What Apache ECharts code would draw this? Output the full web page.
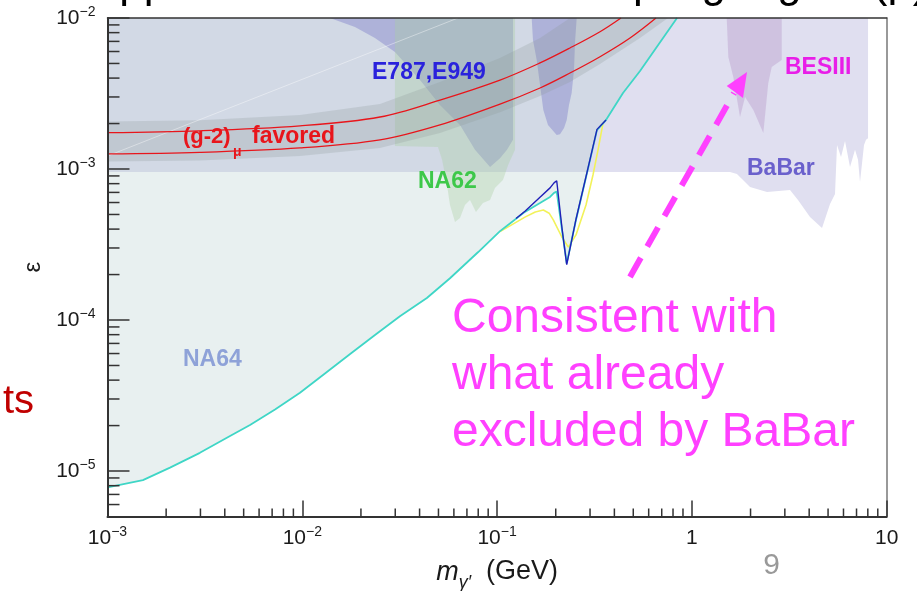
<!DOCTYPE html>
<html>
<head>
<meta charset="utf-8">
<script src="https://cdn.jsdelivr.net/npm/echarts@6/dist/echarts.min.js"></script>
<style>
  html, body { margin: 0; padding: 0; background: #ffffff; }
  #chart { width: 917px; height: 591px; }
</style>
</head>
<body>
<div id="chart"></div>
<script>
// Dark photon parameter space: coupling epsilon versus mass m_A' (GeV)

const FONT = '"Liberation Sans", Arial, Helvetica, sans-serif';

// NA64 upper limit (cyan) and two alternative curves around the resonance
const na64Limit = [
  [0.001, 7.8e-6], [0.00152, 8.7e-6], [0.002094, 1.054e-5], [0.00298, 1.32e-5],
  [0.004256, 1.706e-5], [0.00539, 2.02e-5], [0.007244, 2.553e-5], [0.00973, 3.30e-5],
  [0.01307, 4.43e-5], [0.0176, 5.95e-5], [0.02361, 7.96e-5], [0.0317, 1.06e-4],
  [0.0436, 1.40e-4], [0.0573, 1.89e-4], [0.080, 2.82e-4], [0.1035, 3.88e-4],
  [0.112, 4.19e-4], [0.139, 5.2e-4], [0.166, 5.95e-4], [0.187, 6.53e-4],
  [0.196, 6.95e-4], [0.2023, 7.08e-4], [0.2154, 3.94e-4], [0.2277, 2.37e-4],
  [0.2541, 4.60e-4], [0.2894, 9.40e-4], [0.3257, 1.81e-3], [0.3622, 2.11e-3],
  [0.4429, 3.19e-3], [0.5416, 4.46e-3], [0.8386, 0.01]
];
const na64Blue = [
  [0.125, 4.7e-4], [0.139, 5.25e-4], [0.166, 6.5e-4], [0.187, 7.5e-4],
  [0.196, 8.1e-4], [0.2023, 8.36e-4], [0.2154, 4.05e-4], [0.2277, 2.33e-4],
  [0.2541, 4.65e-4], [0.2894, 9.5e-4], [0.3257, 1.83e-3], [0.3622, 2.11e-3]
];
const na64Yellow = [
  [0.1035, 3.85e-4], [0.139, 4.8e-4], [0.157, 5.19e-4], [0.1727, 5.35e-4],
  [0.185, 5.1e-4], [0.1943, 4.6e-4], [0.2146, 3.56e-4], [0.232, 3.04e-4],
  [0.2541, 3.66e-4], [0.286, 5.78e-4], [0.3106, 9.13e-4], [0.3297, 1.34e-3],
  [0.350, 2.02e-3]
];

// (g-2)_mu favoured band: outer grey band and the two red lines
const g2BandTop = [
  [0.001, 2.06e-3], [0.00298, 2.10e-3], [0.00973, 2.28e-3], [0.02505, 2.69e-3],
  [0.0509, 3.77e-3], [0.1035, 5.43e-3], [0.1661, 7.37e-3], [0.2366, 0.01]
];
const g2BandBottom = [
  [0.001, 1.12e-3], [0.00298, 1.14e-3], [0.00973, 1.22e-3], [0.02505, 1.38e-3],
  [0.0509, 1.73e-3], [0.1035, 2.38e-3], [0.1661, 3.04e-3], [0.2366, 3.77e-3],
  [0.3375, 4.96e-3], [0.5416, 7.37e-3], [0.754, 0.01]
];
const g2Upper = [
  [0.001, 1.74e-3], [0.00298, 1.79e-3], [0.00973, 1.93e-3], [0.02505, 2.21e-3],
  [0.0509, 2.86e-3], [0.1035, 3.88e-3], [0.1661, 5.04e-3], [0.2366, 6.33e-3],
  [0.3375, 8.11e-3], [0.4325, 0.01]
];
const g2Lower = [
  [0.001, 1.26e-3], [0.00298, 1.29e-3], [0.00973, 1.38e-3], [0.02505, 1.56e-3],
  [0.0509, 1.96e-3], [0.1035, 2.69e-3], [0.1661, 3.44e-3], [0.2366, 4.32e-3],
  [0.3375, 5.54e-3], [0.4811, 7.37e-3], [0.6541, 0.01]
];

// Excluded regions (closed outlines)
const babarRegion = [
  [0.001, 9.55e-4], [1.569, 9.55e-4], [1.704, 9.27e-4], [1.988, 7.60e-4],
  [2.43, 7.04e-4], [3.189, 7.26e-4], [3.505, 6.23e-4], [4.04, 4.81e-4],
  [4.656, 4.07e-4], [5.117, 5.86e-4], [5.428, 6.83e-4], [5.558, 1.44e-3],
  [5.827, 1.20e-3], [6.109, 1.53e-3], [6.481, 1.03e-3], [6.877, 1.34e-3],
  [7.125, 1.15e-3], [7.294, 8.20e-4], [7.647, 1.44e-3], [7.83, 1.56e-3],
  [8.02, 1.6e-3], [8.02, 0.01], [0.001, 0.01]
];
const e787Region = [
  [0.01387, 0.01], [0.1207, 0.01], [0.1207, 1.56e-3], [0.1124, 1.34e-3],
  [0.1035, 1.18e-3], [0.092, 1.03e-3], [0.077, 1.34e-3], [0.0645, 1.96e-3],
  [0.0509, 2.65e-3], [0.0402, 3.88e-3], [0.0299, 5.95e-3], [0.0236, 7.37e-3],
  [0.01864, 8.72e-3]
];
const na62Region = [
  [0.0299, 0.01], [0.1236, 0.01], [0.1236, 1.34e-3], [0.1138, 1.06e-3],
  [0.1072, 8.46e-4], [0.0975, 7.48e-4], [0.092, 6.23e-4], [0.0846, 5.95e-4],
  [0.0779, 5.19e-4], [0.0726, 6.23e-4], [0.0684, 5.78e-4], [0.0645, 4.74e-4],
  [0.0608, 4.46e-4], [0.0573, 5.78e-4], [0.0553, 7.83e-4], [0.0522, 1.15e-3],
  [0.0497, 1.40e-3], [0.0299, 1.42e-3]
];
const midRegion = [
  [0.1505, 0.01], [0.1528, 7.15e-3], [0.1597, 5.27e-3], [0.1661, 3.60e-3],
  [0.1727, 2.46e-3], [0.1825, 1.96e-3], [0.2023, 1.68e-3], [0.2103, 1.70e-3],
  [0.2206, 1.87e-3], [0.2277, 2.11e-3], [0.2339, 2.65e-3], [0.2414, 3.19e-3],
  [0.2482, 4.52e-3], [0.2511, 6.83e-3], [0.2562, 0.01]
];
const besRegion = [
  [1.509, 0.01], [1.538, 5.51e-3], [1.631, 4.07e-3], [1.766, 2.21e-3],
  [1.874, 3.0e-3], [2.067, 2.46e-3], [2.326, 1.73e-3], [2.467, 3.71e-3],
  [2.569, 4.74e-3], [2.891, 5.27e-3], [2.891, 0.01]
];
const aeEdge = [[0.001, 1.22e-3], [0.063, 0.01]];

// Axis ranges and minor tick positions
const massRange = [0.001, 10];
const epsRange = [5e-6, 0.01];
const massMinorTicks = [
  0.002, 0.003, 0.004, 0.005, 0.006, 0.007, 0.008, 0.009,
  0.02, 0.03, 0.04, 0.05, 0.06, 0.07, 0.08, 0.09,
  0.2, 0.3, 0.4, 0.5, 0.6, 0.7, 0.8, 0.9,
  2, 3, 4, 5, 6, 7, 8, 9
];
const epsMinorTicks = [
  6e-6, 7e-6, 8e-6, 9e-6,
  2e-5, 3e-5, 4e-5, 5e-5, 6e-5, 7e-5, 8e-5, 9e-5,
  2e-4, 3e-4, 4e-4, 5e-4, 6e-4, 7e-4, 8e-4, 9e-4,
  2e-3, 3e-3, 4e-3, 5e-3, 6e-3, 7e-3, 8e-3, 9e-3
];

function regionSeries(points, fill, z) {
  return {
    type: 'custom',
    coordinateSystem: 'cartesian2d',
    silent: true,
    z: z,
    data: points,
    encode: { x: 0, y: 1 },
    renderItem: function (params, api) {
      if (params.dataIndex !== 0) return;
      return {
        type: 'polygon',
        shape: { points: points.map(function (p) { return api.coord(p); }) },
        style: { fill: fill }
      };
    }
  };
}

function curveSeries(points, color, width, z, smooth) {
  return {
    type: 'line',
    data: points,
    showSymbol: false,
    symbol: 'none',
    silent: true,
    smooth: smooth || false,
    z: z,
    lineStyle: { color: color, width: width },
    emphasis: { disabled: true }
  };
}

function powerLabel(v) {
  const e = Math.round(Math.log10(v));
  if (Math.abs(Math.log10(v) - e) > 1e-6) return '';
  if (e === 0) return '{b|1}';
  if (e === 1) return '{b|10}';
  return '{b|10}{s|' + (e < 0 ? '\u2212' + (-e) : e) + '}';
}

const labelRich = {
  b: { fontFamily: FONT, fontSize: 21, color: '#1a1a1a', lineHeight: 21, verticalAlign: 'bottom' },
  s: { fontFamily: FONT, fontSize: 14, color: '#1a1a1a', lineHeight: 14, verticalAlign: 'bottom', padding: [0, 0, 9, 0] }
};

const chart = echarts.init(document.getElementById('chart'), null, { renderer: 'canvas' });

const option = {
  animation: false,
  backgroundColor: '#ffffff',
  grid: { left: 107.5, top: 18, width: 779.2, height: 498.5, containLabel: false, outerBoundsMode: 'none' },
  xAxis: [
    {
      type: 'log', logBase: 10, min: massRange[0], max: massRange[1], z: 5,
      axisLine: { show: true, lineStyle: { color: '#333', width: 2 } },
      axisTick: { show: true, inside: true, length: 16, lineStyle: { color: '#333', width: 1.5 } },
      axisLabel: { formatter: powerLabel, rich: labelRich, margin: 11, showMinLabel: true, showMaxLabel: true },
      splitLine: { show: false },
      name: '{m|m}{g|\u03b3\u2032}{t|(GeV)}',
      nameLocation: 'middle',
      nameGap: 42,
      nameTextStyle: {
        rich: {
          m: { fontFamily: FONT, fontSize: 27, fontStyle: 'italic', color: '#1a1a1a', verticalAlign: 'bottom', padding: [0, 0, 6, 0] },
          g: { fontFamily: FONT, fontSize: 18, fontStyle: 'italic', color: '#1a1a1a', verticalAlign: 'bottom' },
          t: { fontFamily: FONT, fontSize: 27, color: '#1a1a1a', verticalAlign: 'bottom', padding: [0, 0, 6, 15] }
        }
      }
    },
    {
      type: 'log', logBase: 10, min: massRange[0], max: massRange[1], position: 'top', z: 5,
      axisLine: { show: true, lineStyle: { color: '#333', width: 1.5 } },
      axisTick: { show: false }, axisLabel: { show: false }, splitLine: { show: false }
    }
  ],
  yAxis: [
    {
      type: 'log', logBase: 10, min: epsRange[0], max: epsRange[1], z: 5,
      axisLine: { show: true, lineStyle: { color: '#333', width: 2 } },
      axisTick: { show: true, inside: true, length: 22, lineStyle: { color: '#333', width: 1.5 } },
      axisLabel: { formatter: powerLabel, rich: labelRich, margin: 12 },
      splitLine: { show: false },
      name: '\u03b5',
      nameLocation: 'middle',
      nameRotate: 90,
      nameGap: 62,
      nameTextStyle: { fontFamily: FONT, fontSize: 24, color: '#1a1a1a' }
    },
    {
      type: 'log', logBase: 10, min: epsRange[0], max: epsRange[1], position: 'right', z: 5,
      axisLine: { show: true, lineStyle: { color: '#777', width: 1.5 } },
      axisTick: { show: false }, axisLabel: { show: false }, splitLine: { show: false }
    }
  ],
  series: [
    regionSeries(babarRegion, '#e0dff0', 1),
    regionSeries(na64Limit.concat([[0.001, 0.01]]), 'rgba(178,205,205,0.3)', 1),
    regionSeries(e787Region, 'rgba(120,120,200,0.4)', 1),
    regionSeries(na62Region, 'rgba(170,205,160,0.35)', 1),
    regionSeries(midRegion, 'rgba(120,120,200,0.4)', 1),
    regionSeries(besRegion, 'rgba(170,130,190,0.3)', 1),
    regionSeries(g2BandTop.concat(g2BandBottom.slice().reverse()), 'rgba(140,150,150,0.25)', 1),
    curveSeries(aeEdge, 'rgba(255,255,255,0.4)', 1, 2),
    curveSeries(g2Upper, '#e8151b', 1.3, 3, 0.35),
    curveSeries(g2Lower, '#e8151b', 1.3, 3, 0.35),
    curveSeries(na64Yellow, '#f2f25a', 1.6, 3),
    curveSeries(na64Limit, '#3fd6c6', 1.8, 3),
    curveSeries(na64Blue, '#2020b8', 1.4, 3),
    {
      type: 'custom', coordinateSystem: 'cartesian2d', silent: true, z: 6,
      data: massMinorTicks.map(function (v) { return [v, epsRange[0]]; }),
      encode: { x: 0, y: 1 },
      renderItem: function (params, api) {
        const p = api.coord([api.value(0), api.value(1)]);
        return { type: 'line', shape: { x1: p[0], y1: p[1], x2: p[0], y2: p[1] - 8 }, style: { stroke: '#333', lineWidth: 1.5 } };
      }
    },
    {
      type: 'custom', coordinateSystem: 'cartesian2d', silent: true, z: 6,
      data: epsMinorTicks.map(function (v) { return [massRange[0], v]; }),
      encode: { x: 0, y: 1 },
      renderItem: function (params, api) {
        const p = api.coord([api.value(0), api.value(1)]);
        return { type: 'line', shape: { x1: p[0], y1: p[1], x2: p[0] + 12, y2: p[1] }, style: { stroke: '#333', lineWidth: 1.5 } };
      }
    }
  ],
  graphic: [
    // slide title running off the top edge
    { type: 'text', x: 90, y: -37, z: 10, style: { text: 'Application to the muon coupling region (\u03bc)', font: '44px ' + FONT, fill: '#000', textAlign: 'left', textVerticalAlign: 'top' } },
    // slide text running off the left edge
    { type: 'text', x: 34, y: 402, z: 10, style: { text: 'ts', font: '40px ' + FONT, fill: '#c00000', textAlign: 'right', textVerticalAlign: 'middle' } },
    // region labels
    { type: 'text', x: 372, y: 72.5, z: 10, style: { text: 'E787,E949', font: 'bold 23px ' + FONT, fill: '#2a22dc', textAlign: 'left', textVerticalAlign: 'middle' } },
    { type: 'text', x: 183, y: 137, z: 10, style: { text: '(g-2)', font: 'bold 22px ' + FONT, fill: '#e8151b', textAlign: 'left', textVerticalAlign: 'middle' } },
    { type: 'text', x: 233, y: 152, z: 10, style: { text: '\u03bc', font: 'bold 14px ' + FONT, fill: '#e8151b', textAlign: 'left', textVerticalAlign: 'middle' } },
    { type: 'text', x: 252, y: 137, z: 10, style: { text: 'favored', font: 'bold 23px ' + FONT, fill: '#e8151b', textAlign: 'left', textVerticalAlign: 'middle' } },
    { type: 'text', x: 418, y: 181.5, z: 10, style: { text: 'NA62', font: 'bold 23px ' + FONT, fill: '#3ec84a', textAlign: 'left', textVerticalAlign: 'middle' } },
    { type: 'text', x: 785, y: 68, z: 10, style: { text: 'BESIII', font: 'bold 23px ' + FONT, fill: '#e81ee8', textAlign: 'left', textVerticalAlign: 'middle' } },
    { type: 'text', x: 747, y: 169, z: 10, style: { text: 'BaBar', font: 'bold 23px ' + FONT, fill: '#6a60cc', textAlign: 'left', textVerticalAlign: 'middle' } },
    { type: 'text', x: 183, y: 360, z: 10, style: { text: 'NA64', font: 'bold 23px ' + FONT, fill: '#8ea2d8', textAlign: 'left', textVerticalAlign: 'middle' } },
    // annotation with dashed arrow
    { type: 'line', z: 10, shape: { x1: 630, y1: 277, x2: 734, y2: 93 }, style: { stroke: '#ff40ff', lineWidth: 6, lineDash: [22, 13] } },
    { type: 'polygon', z: 10, shape: { points: [[726.7, 86], [747, 72], [743, 98]] }, style: { fill: '#ff40ff' } },
    { type: 'text', x: 452, y: 290.5, z: 10, style: { text: 'Consistent with\nwhat already\nexcluded by BaBar', font: '48px ' + FONT, lineHeight: 57, fill: '#ff40ff', textAlign: 'left', textVerticalAlign: 'top' } },
    // page number
    { type: 'text', x: 771.5, y: 566, z: 10, style: { text: '9', font: '30px ' + FONT, fill: '#999999', textAlign: 'center', textVerticalAlign: 'middle' } }
  ]
};

chart.setOption(option);
</script>
</body>
</html>
